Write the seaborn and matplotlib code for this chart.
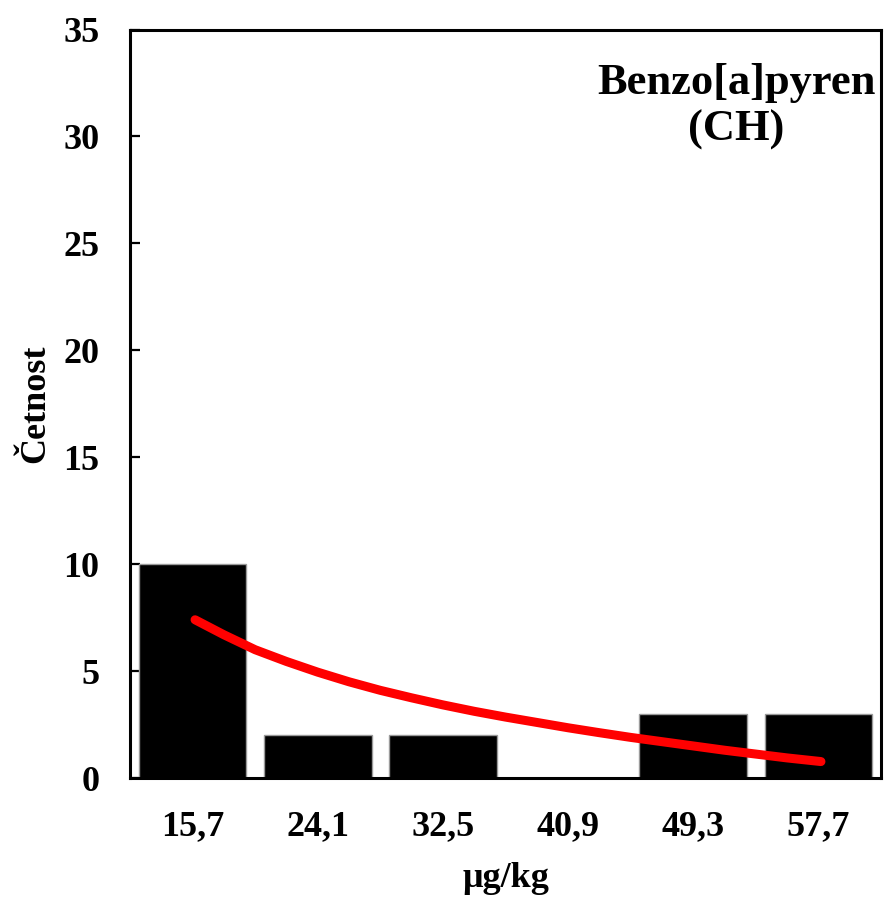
import matplotlib
matplotlib.use("Agg")
import matplotlib.pyplot as plt
import seaborn as sns
import pandas as pd

categories = ["15,7", "24,1", "32,5", "40,9", "49,3", "57,7"]
counts = [10, 2, 2, 0, 3, 3]
# fitted curve, x in category positions (0 = first bin)
curve_x = [0.02, 0.25, 0.5, 0.75, 1.0, 1.25, 1.5, 1.75, 2.0, 2.25, 2.5,
           2.75, 3.0, 3.25, 3.5, 3.75, 4.0, 4.25, 4.5, 4.75, 5.02]
curve_y = [7.4, 6.7, 6.0, 5.45, 4.95, 4.5, 4.1, 3.75, 3.42, 3.12, 2.85,
           2.6, 2.35, 2.12, 1.9, 1.7, 1.5, 1.3, 1.12, 0.94, 0.77]
title_text = "Benzo[a]pyren\n(CH)"
xlabel = "μg/kg"
ylabel = "Četnost"

sns.set_theme(style="white")
plt.rcParams['font.family'] = ['Liberation Serif', 'DejaVu Serif']
plt.rcParams['font.weight'] = 'bold'
plt.rcParams['text.color'] = 'black'
plt.rcParams['axes.labelcolor'] = 'black'
plt.rcParams['xtick.color'] = 'black'
plt.rcParams['ytick.color'] = 'black'

fig = plt.figure(figsize=(8.86, 8.98), dpi=100)
ax = fig.add_axes([0.1467, 0.1336, 0.8477, 0.8335])

df = pd.DataFrame({"bin": categories, "count": counts})
sns.barplot(data=df, x="bin", y="count", color="black", width=0.86,
            edgecolor="#9a9a9a", linewidth=1, saturation=1, ax=ax)
for p in ax.patches:
    p.set_facecolor("black")

curve = pd.DataFrame({"x": curve_x, "y": curve_y})
sns.lineplot(data=curve, x="x", y="y", color="#ff0000", linewidth=6.5,
             ax=ax, solid_capstyle="round")

ax.set_xlim(-0.5, 5.5)
ax.set_ylim(0, 35)
ax.set_yticks(range(0, 36, 5))
ax.tick_params(axis="y", direction="in", length=7, width=1.6, pad=22,
               labelsize=26, left=True, colors="black")
ax.tick_params(axis="x", length=0, pad=23, labelsize=26, colors="black")
for lab in ax.get_xticklabels() + ax.get_yticklabels():
    lab.set_fontweight("bold")

for s in ax.spines.values():
    s.set_visible(True)
    s.set_color("black")
    s.set_linewidth(2.2)

ax.set_xlabel(xlabel, fontsize=26, fontweight="bold", labelpad=14,
              color="black")
ax.set_ylabel(ylabel, fontsize=26, fontweight="bold", labelpad=8,
              color="black")

ax.text(0.807, 0.955, title_text, transform=ax.transAxes, ha="center",
        va="top", multialignment="center", fontsize=32, fontweight="bold",
        linespacing=1.2, color="black")

fig.savefig("out.png", dpi=100)
